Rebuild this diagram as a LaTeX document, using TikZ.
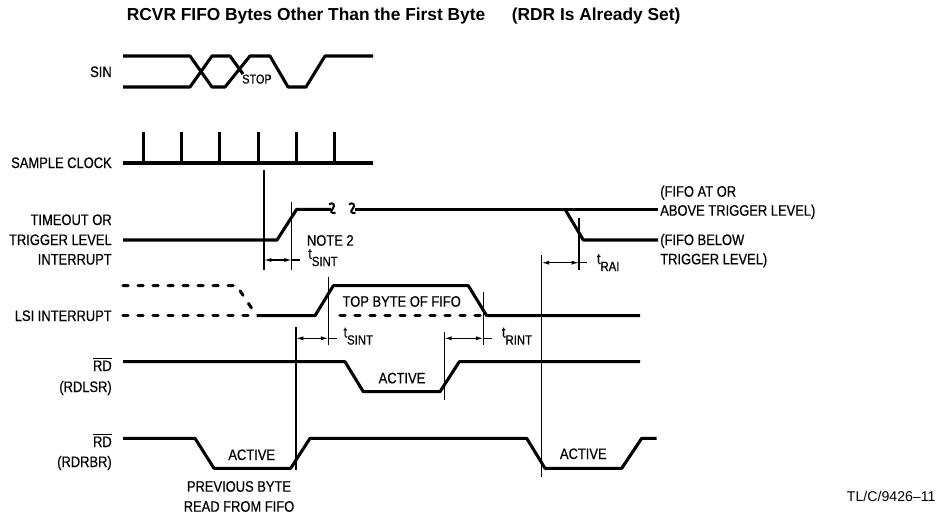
\documentclass[tikz,border=0pt]{standalone}
\usepackage{fontspec}
\setmainfont{Liberation Sans}
\newfontfamily\lettering[FakeStretch=0.85,FakeBold=0.5]{Liberation Sans}
\usetikzlibrary{arrows.meta}
\newcommand{\tdelay}[1]{t\raisebox{-5.3pt}{\fontsize{10}{10}\selectfont #1}}
\begin{document}
\begin{tikzpicture}[x=0.75pt,y=-0.75pt,
	every node/.style={font=\lettering\fontsize{11.4}{12}\selectfont,inner sep=0pt},
	wave/.style={line width=2.3pt,line join=round},
	dotwave/.style={wave,line cap=round,dash pattern=on 3.9pt off 7.35pt},
	brk/.style={line width=1.5pt},
	guide/.style={line width=0.8pt},
	span/.style={guide,{Latex[length=5.5pt,width=3pt]}-{Latex[length=5.5pt,width=3pt]}},
	lbl/.style={anchor=base east},
	txt/.style={anchor=base west}]
\useasboundingbox (0,0) rectangle (941,521);
\node[txt,font=\bfseries\fontsize{13}{14}\selectfont] (title) at (126.7,21) {RCVR FIFO Bytes Other Than the First Byte\hspace{20pt}(RDR Is Already Set)};
\node[lbl] (sin) at (112,77) {SIN};
\node[lbl] (clk) at (112,168) {SAMPLE CLOCK};
\node[lbl] (tmoa) at (112,225) {TIMEOUT OR};
\node[lbl] (tmob) at (112,245) {TRIGGER LEVEL};
\node[lbl] (tmoc) at (112,264.5) {INTERRUPT};
\node[lbl] (lsi) at (112,321) {LSI INTERRUPT};
\node[lbl] (rda) at (112,371) {$\overline{\hbox{RD}}$};
\node[lbl] (rdb) at (112,392) {(RDLSR)};
\node[lbl] (rdc) at (112,447) {$\overline{\hbox{RD}}$};
\node[lbl] (rdd) at (112,467) {(RDRBR)};
% SIN
\draw[wave] (123,56) -- (190,56) -- (212,87) -- (225,87) -- (250,56) -- (270,56) -- (288,87) -- (306,87) -- (325,56) -- (373,56);
\draw[wave] (123,87) -- (190,87) -- (212,56) -- (230,56) -- (243,74);
\node[txt,font=\lettering\fontsize{9.6}{10}\selectfont] (stop) at (242,83.5) {STOP};
% sample clock
\draw[wave] (123,163) -- (373,163);
\foreach \x in {143.3,181.6,219.9,258.2,296.5,334.8}
	\draw[wave] (\x,163) -- (\x,132);
% timeout or trigger level interrupt
\draw[wave] (123,240) -- (277,240) -- (296.7,209.3) -- (331,209.3);
\draw[brk] (329,204.5) .. controls (332,201.5) and (336.5,204.5) .. (332.5,209) .. controls (330,211.5) and (331,213.5) .. (335.5,213);
\draw[brk] (349,204.5) .. controls (352,201.5) and (356.5,204.5) .. (352.5,209) .. controls (350,211.5) and (351,213.5) .. (355.5,213);
\draw[wave] (355,209.3) -- (658,209.3);
\draw[wave] (565,209.3) -- (583.3,240) -- (658,240);
\node[txt] (fifoa) at (660,196.7) {(FIFO AT OR};
\node[txt] (fifob) at (660,215.7) {ABOVE TRIGGER LEVEL)};
\node[txt] (fifoc) at (660,245) {(FIFO BELOW};
\node[txt] (fifod) at (660,264.3) {TRIGGER LEVEL)};
\node[txt] (note) at (306.7,245.7) {NOTE 2};
% LSI interrupt
\draw[dotwave] (123,285.7) -- (236.7,285.7) -- (256.7,315.7);
\draw[dotwave] (123,315.7) -- (256.7,315.7);
\draw[dotwave] (340,315.7) -- (480,315.7);
\draw[wave] (256.7,315.7) -- (315,315.7) -- (333.3,285.7) -- (468.3,285.7) -- (486.7,315.7) -- (640,315.7);
\node[anchor=base] (top) at (401.7,306.7) {TOP BYTE OF FIFO};
% RD (RDLSR)
\draw[wave] (123,361.7) -- (345,361.7) -- (363.3,391.7) -- (440,391.7) -- (459.3,361.7) -- (640,361.7);
\node[anchor=base] (acta) at (402,383.3) {ACTIVE};
% RD (RDRBR)
\draw[wave] (123,438.3) -- (195,438.3) -- (214,468.3) -- (290.7,468.3) -- (310,438.3) -- (526.7,438.3) -- (545,468.3) -- (621.7,468.3) -- (641.7,438.3) -- (656.7,438.3);
\node[anchor=base] (actb) at (251.7,460) {ACTIVE};
\node[anchor=base] (actc) at (583.3,459) {ACTIVE};
\node[anchor=base] (preva) at (239,491.7) {PREVIOUS BYTE};
\node[anchor=base] (prevb) at (239,511.7) {READ FROM FIFO};
% timing guides
\draw[guide] (264,170) -- (264,270);
\draw[guide] (291.7,201.7) -- (291.7,270);
\draw[guide] (328.3,276.7) -- (328.3,345);
\draw[guide] (296,326.7) -- (296,470);
\draw[guide] (444.3,331.7) -- (444.3,400);
\draw[guide] (483.3,291.7) -- (483.3,345);
\draw[guide] (541.7,255) -- (541.7,476.7);
\draw[guide] (579,218) -- (579,270);
\coordinate (sinta) at (264,260);
\coordinate (sintb) at (291.7,260);
\coordinate (sintc) at (296,338.3);
\coordinate (sintd) at (328.3,338.3);
\coordinate (rinta) at (444.3,338.3);
\coordinate (rintb) at (483.3,338.3);
\coordinate (raia) at (541.7,262.7);
\coordinate (raib) at (579,262.7);
\draw[span] (sinta) -- (sintb);
\draw[guide] (sintb) -- ++(8.3,0);
\draw[span] (sintc) -- (sintd);
\draw[guide] (sintd) -- ++(8.3,0);
\draw[span] (rinta) -- (rintb);
\draw[guide] (rintb) -- ++(8.3,0);
\draw[span] (raia) -- (raib);
\draw[guide] (raib) -- ++(8.3,0);
\node[txt] (tsinta) at (308,259) {\tdelay{SINT}};
\node[txt] (tsintb) at (343.3,337.5) {\tdelay{SINT}};
\node[txt] (trint) at (501.7,337.5) {\tdelay{RINT}};
\node[txt] (trai) at (596.7,264) {\tdelay{RAI}};
\node[txt,font=\fontsize{10.6}{12}\selectfont] (tl) at (846.7,501) {TL/C/9426--11};
\end{tikzpicture}
\end{document}
